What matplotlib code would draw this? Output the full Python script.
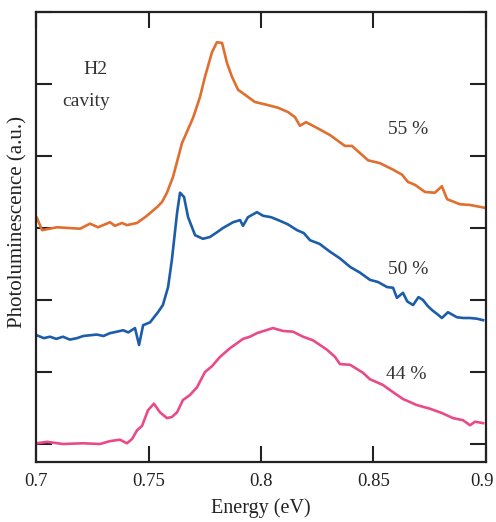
import matplotlib
matplotlib.use("Agg")
import matplotlib.pyplot as plt
import matplotlib.transforms as mtransforms

# 55 % (orange)
x55 = [0.7004, 0.7027, 0.7093, 0.7196, 0.724, 0.7276, 0.7329, 0.7351, 0.7382, 0.7404, 0.7449,
       0.7493, 0.7538, 0.756, 0.7582, 0.7609, 0.7649, 0.7698, 0.7729, 0.7751, 0.7782, 0.7804,
       0.7827, 0.7849, 0.7871, 0.7898, 0.7929, 0.7973, 0.8027, 0.8076, 0.812, 0.8151, 0.8173,
       0.82, 0.8249, 0.8307, 0.8373, 0.8404, 0.8476, 0.8529, 0.8587, 0.8627, 0.8653, 0.8684,
       0.8729, 0.8773, 0.8804, 0.8827, 0.8884, 0.8929, 0.8996]
y55 = [3.14, 2.97, 3.01, 2.99, 3.06, 3.01, 3.08, 3.03, 3.07, 3.04, 3.07,
       3.17, 3.29, 3.36, 3.49, 3.71, 4.18, 4.53, 4.82, 5.10, 5.44, 5.58,
       5.57, 5.29, 5.10, 4.92, 4.85, 4.75, 4.71, 4.67, 4.61, 4.54, 4.42,
       4.47, 4.39, 4.29, 4.14, 4.14, 3.94, 3.90, 3.81, 3.74, 3.64, 3.60,
       3.50, 3.49, 3.58, 3.40, 3.33, 3.32, 3.28]

# 50 % (blue)
x50 = [0.7004, 0.7035, 0.7062, 0.709, 0.712, 0.715, 0.7182, 0.721, 0.724, 0.727, 0.7300,
       0.7329, 0.736, 0.7387, 0.741, 0.744, 0.7458, 0.7476, 0.7507, 0.7542, 0.7564, 0.7587,
       0.7604, 0.7627, 0.764, 0.7658, 0.7676, 0.7707, 0.7742, 0.7773, 0.7804, 0.7831, 0.7876,
       0.7907, 0.7920, 0.7942, 0.7982, 0.8009, 0.8045, 0.8084, 0.812, 0.816, 0.8190, 0.8218,
       0.826, 0.8307, 0.835, 0.8396, 0.844, 0.8484, 0.852, 0.856, 0.8587, 0.8604, 0.8631,
       0.865, 0.8676, 0.870, 0.872, 0.874, 0.876, 0.8785, 0.8804, 0.8831, 0.8871, 0.890,
       0.8929, 0.896, 0.8987]
y50 = [1.51, 1.47, 1.49, 1.46, 1.49, 1.45, 1.47, 1.50, 1.51, 1.52, 1.50,
       1.54, 1.56, 1.58, 1.55, 1.61, 1.375, 1.65, 1.69, 1.83, 1.93, 2.18,
       2.56, 3.21, 3.49, 3.43, 3.15, 2.90, 2.85, 2.875, 2.94, 3.00, 3.08,
       3.11, 3.03, 3.15, 3.22, 3.17, 3.15, 3.10, 3.05, 2.97, 2.93, 2.83,
       2.78, 2.67, 2.58, 2.46, 2.38, 2.28, 2.25, 2.18, 2.17, 2.03, 2.10,
       1.98, 1.93, 2.04, 2.00, 1.92, 1.86, 1.80, 1.75, 1.83, 1.76, 1.75,
       1.75, 1.74, 1.72]

# 44 % (pink)
x44 = [0.7004, 0.7049, 0.712, 0.7209, 0.7284, 0.7329, 0.7373, 0.7404, 0.7427, 0.7449, 0.7471,
       0.7498, 0.7524, 0.7551, 0.7582, 0.7604, 0.7627, 0.7653, 0.7684, 0.7716, 0.7751, 0.7782,
       0.7818, 0.7862, 0.792, 0.7951, 0.7982, 0.8053, 0.8098, 0.8142, 0.8187, 0.8231, 0.8293,
       0.8329, 0.8351, 0.8396, 0.8453, 0.8484, 0.8542, 0.8573, 0.8631, 0.8693, 0.8751, 0.8804,
       0.8853, 0.8898, 0.8929, 0.8951, 0.8987]
y44 = [0.01, 0.03, 0.00, 0.01, 0.00, 0.04, 0.06, 0.01, 0.07, 0.19, 0.25,
       0.47, 0.56, 0.44, 0.36, 0.375, 0.44, 0.61, 0.68, 0.79, 1.00, 1.08,
       1.21, 1.33, 1.46, 1.49, 1.54, 1.61, 1.57, 1.56, 1.49, 1.44, 1.31,
       1.21, 1.11, 1.10, 0.99, 0.90, 0.82, 0.75, 0.625, 0.54, 0.49, 0.43,
       0.36, 0.33, 0.26, 0.31, 0.29]

xticks = [0.7, 0.75, 0.8, 0.85, 0.9]
xticklabels = ["0.7", "0.75", "0.8", "0.85", "0.9"]
yticks = [0, 1, 2, 3, 4, 5, 6]

plt.rcParams['font.family'] = ['Liberation Serif', 'DejaVu Serif']

fig = plt.figure(figsize=(4.96, 5.22), dpi=100)
ax = fig.add_axes([36/496, 60/522, 450/496, 450/522])

ax.plot(x55, y55, color='#E06E2E', lw=1.9)
ax.plot(x50, y50, color='#1C5DAA', lw=1.9)
ax.plot(x44, y44, color='#EA4A8A', lw=1.9)

ax.set_xlim(0.7, 0.9)
ax.set_ylim(-0.25, 6.0)
ax.set_xticks(xticks)
ax.set_xticklabels(xticklabels)
ax.set_yticks(yticks)
ax.set_yticklabels([])
ax.tick_params(axis='both', direction='in', length=11.5, width=1.5, colors='#222',
               top=True, right=True, labelsize=13.5, pad=8)
for s in ax.spines.values():
    s.set_linewidth(1.6)
    s.set_color('#222')

# nudge last tick label so it stays inside the canvas
last = ax.get_xticklabels()[-1]
last.set_transform(last.get_transform() + mtransforms.ScaledTranslation(-4/100, 0, fig.dpi_scale_trans))

ax.set_xlabel('Energy (eV)', fontsize=14.5, color='#222', labelpad=6)
ax.set_ylabel('Photoluminescence (a.u.)', fontsize=15, color='#222')
ax.yaxis.set_label_coords(-0.02, 0.533)

tc = '#333'
ax.text(0.7265, 5.20, 'H2', fontsize=14, color=tc, ha='center', va='center')
ax.text(0.7222, 4.76, 'cavity', fontsize=14, color=tc, ha='center', va='center')
ax.text(0.8653, 4.37, '55 %', fontsize=14, color=tc, ha='center', va='center')
ax.text(0.8653, 2.42, '50 %', fontsize=14, color=tc, ha='center', va='center')
ax.text(0.8644, 0.97, '44 %', fontsize=14, color=tc, ha='center', va='center')

fig.savefig('out.png', dpi=100)
